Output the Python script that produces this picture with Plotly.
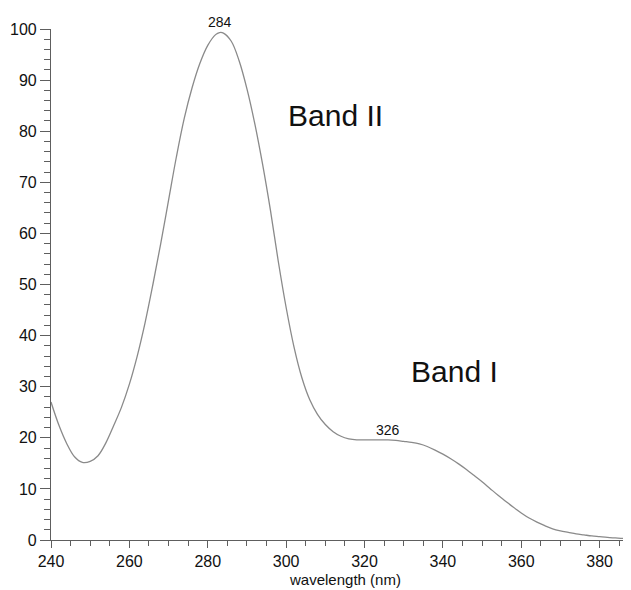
import plotly.graph_objects as go

# wavelength (nm) and absorbance (% relative)
wavelength = [240, 242, 244, 246, 248, 250, 252, 254, 256, 258, 260, 262, 264, 266, 268,
              270, 272, 274, 276, 278, 280, 282, 283, 284, 286, 288, 290, 292, 294, 296,
              298, 300, 302, 304, 306, 308, 310, 312, 314, 316, 318, 320, 322, 324, 326,
              328, 330, 332, 334, 336, 338, 340, 342, 344, 346, 348, 350, 352, 354, 356,
              358, 360, 362, 364, 366, 368, 370, 372, 374, 376, 378, 380, 382, 384, 386, 388]
absorbance = [27.0, 22.5, 18.9, 16.3, 15.2, 15.4, 16.5, 19.0, 22.4, 26.0, 30.5, 36.0, 42.5, 50.0, 58.0,
              66.5, 75.0, 82.5, 88.5, 93.3, 96.8, 98.9, 99.3, 99.2, 97.6, 93.8, 88.3, 81.5, 73.5, 64.5,
              54.5, 45.5, 37.8, 31.8, 27.5, 24.6, 22.6, 21.2, 20.3, 19.8, 19.6, 19.6, 19.6, 19.6, 19.6,
              19.5, 19.3, 19.1, 18.8, 18.3, 17.6, 16.8, 15.9, 14.9, 13.8, 12.6, 11.4, 10.1, 8.8, 7.6,
              6.4, 5.3, 4.3, 3.5, 2.8, 2.2, 1.8, 1.5, 1.2, 1.0, 0.8, 0.65, 0.5, 0.4, 0.3, 0.3]

peak_labels = ["284", "326"]
peak_x = [283, 326]
peak_y = [99.3, 19.6]

band_labels = ["Band II", "Band I"]
band_x = [312.6, 343.0]
band_y = [83.0, 33.0]

x_ticks = [240, 260, 280, 300, 320, 340, 360, 380]
y_ticks = [0, 10, 20, 30, 40, 50, 60, 70, 80, 90, 100]

FONT = "Liberation Sans, Arial, sans-serif"
AXIS_COLOR = "#5e5e5e"

fig = go.Figure()
fig.add_trace(go.Scatter(
    x=wavelength, y=absorbance, mode="lines",
    line=dict(color="#8a8a8a", width=1.3, shape="spline", smoothing=1.0),
    hoverinfo="x+y", showlegend=False,
))

# peak labels
for t, xv, yv, dy in zip(peak_labels, peak_x, peak_y, [11, 10]):
    fig.add_annotation(x=xv, y=yv, text=t, showarrow=False, yshift=dy,
                       font=dict(family=FONT, size=14, color="#111111"),
                       xanchor="center", yanchor="middle")

# band labels
for t, xv, yv in zip(band_labels, band_x, band_y):
    fig.add_annotation(x=xv, y=yv, text=t, showarrow=False,
                       font=dict(family=FONT, size=30, color="#111111"),
                       xanchor="center", yanchor="middle")

# x-axis title
fig.add_annotation(x=0.507, xref="paper", y=-0.078, yref="paper", text="wavelength (nm)",
                   showarrow=False, font=dict(family=FONT, size=15, color="#111111"),
                   xanchor="center", yanchor="middle")

# the page body adds an 8px offset, so the figure is sized to compensate
fig.update_layout(
    width=623, height=582,
    margin=dict(l=43, r=0, t=21, b=50, autoexpand=False),
    paper_bgcolor="white", plot_bgcolor="white",
    font=dict(family=FONT, size=16, color="#111111"),
)
fig.update_xaxes(
    range=[240, 388], tickvals=x_ticks, ticktext=[str(v) for v in x_ticks],
    automargin=False,
    showgrid=False, zeroline=False, showline=True, linecolor=AXIS_COLOR, linewidth=1.2,
    ticks="outside", ticklen=7, tickcolor=AXIS_COLOR, tickwidth=1.2,
    tickfont=dict(family=FONT, size=16, color="#111111"),
    minor=dict(dtick=5, tick0=240, ticks="outside", ticklen=5, tickcolor=AXIS_COLOR, tickwidth=1),
)
fig.update_yaxes(
    range=[0, 100], tickvals=y_ticks, ticktext=[str(v) for v in y_ticks],
    automargin=False,
    showgrid=False, zeroline=False, showline=True, linecolor=AXIS_COLOR, linewidth=1.2,
    ticks="outside", ticklen=10, tickcolor=AXIS_COLOR, tickwidth=1.2,
    tickfont=dict(family=FONT, size=16, color="#111111"),
    minor=dict(dtick=2, tick0=0, ticks="outside", ticklen=6, tickcolor=AXIS_COLOR, tickwidth=1),
)

fig.write_html("out.html")
